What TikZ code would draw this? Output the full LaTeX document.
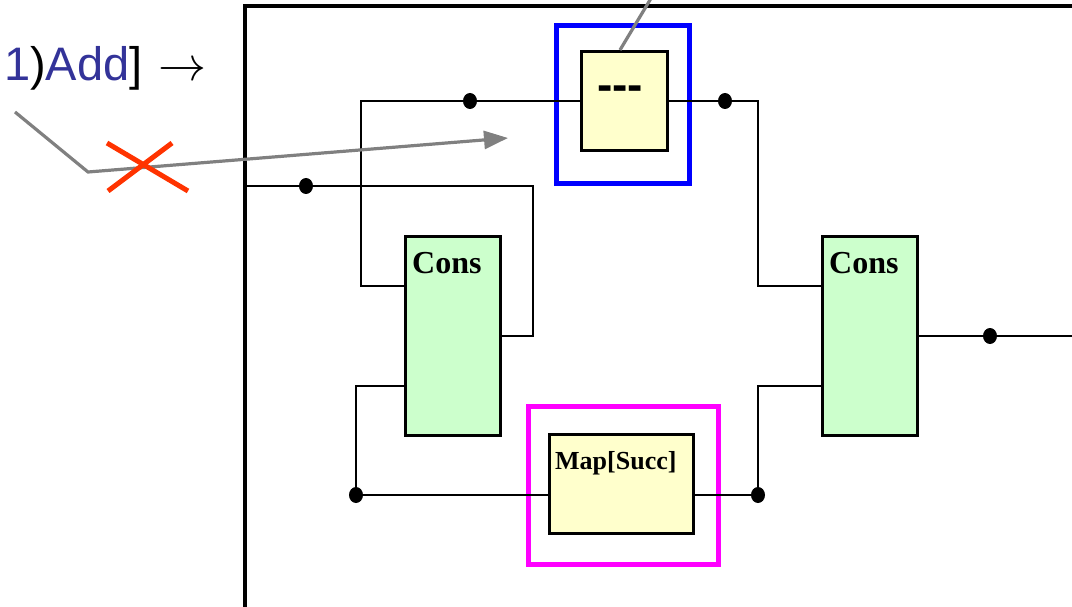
\documentclass[tikz,border=0pt]{standalone}
\usepackage{fontspec}
\setmainfont{Liberation Serif}
\newfontfamily\addfont{Liberation Sans}
\usepackage{xcolor}
\usepackage{graphicx}
\usetikzlibrary{arrows.meta, shapes.geometric}

\definecolor{boxyellow}{RGB}{255,255,204}
\definecolor{boxgreen}{RGB}{204,255,204}
\definecolor{addblue}{RGB}{51,51,153}
\definecolor{crossred}{RGB}{255,51,0}
\definecolor{pointergray}{RGB}{128,128,128}
\definecolor{selblue}{RGB}{0,0,255}
\definecolor{mappink}{RGB}{255,0,255}

\begin{document}
\begin{tikzpicture}[
    x=1pt, y=-1pt,
    wire/.style={line width=2.4pt},
    outerframe/.style={line width=3.2pt},
    consbox/.style={draw, line width=3pt, fill=boxgreen,
                    minimum width=95pt, minimum height=198pt, inner sep=0pt},
    funcbox/.style={draw, line width=3pt, fill=boxyellow, inner sep=0pt},
    highlight/.style={draw, line width=5pt, inner sep=0pt},
    junction/.style={ellipse, fill=black, inner sep=0pt,
                     minimum width=14pt, minimum height=16pt},
    boxtitle/.style={font=\bfseries\fontsize{32}{34}\selectfont,
                     inner sep=0pt, anchor=north west},
    pointer/.style={draw=pointergray, line width=3.2pt},
    cross/.style={draw=crossred, line width=5pt},
]
\useasboundingbox (0,0) rectangle (1072,607);

% Outer frame
\draw[outerframe] (245,620) |- (1085,6);

% Highlight frames
\node[highlight, draw=selblue, minimum width=133pt, minimum height=158pt]
      (selframe) at (622.5,104.5) {};
\node[highlight, draw=mappink, minimum width=190pt, minimum height=158pt]
      (mapframe) at (623,485.5) {};

% Blocks
\node[funcbox, minimum width=86pt, minimum height=99pt] (dash) at (624,101) {};
\node[font=\addfont\bfseries\fontsize{46}{48}\selectfont, inner sep=0pt]
      (dashtxt) at (620,93) {-{}-{}-};
\node[funcbox, minimum width=144pt, minimum height=99pt] (map) at (621.5,484) {};
\node[boxtitle, font=\bfseries\fontsize{26}{28}\selectfont]
      (maptxt) at ([shift={(7,18)}]map.north west) {Map[Succ]};

\node[consbox] (cons1) at (453,336) {};
\node[boxtitle] (cons1txt) at ([shift={(8,17)}]cons1.north west) {Cons};
\node[consbox] (cons2) at (870,336) {};
\node[boxtitle] (cons2txt) at ([shift={(8,17)}]cons2.north west) {Cons};

% Junctions
\node[junction] (j1) at (470,101) {};
\node[junction] (j2) at (725,101) {};
\node[junction] (j3) at (306,186) {};
\node[junction] (j4) at (356,495) {};
\node[junction] (j5) at (758,495) {};
\node[junction] (j6) at (990,336) {};

\coordinate (c1) at (361,101);
\coordinate (c2) at (758,101);
\coordinate (inlet) at (245,186);
\coordinate (c3) at (533,186);
\coordinate (outlet) at (1080,336);

% Wires
\draw[wire] (dash.west) -- (j1) -- (c1) |- ([yshift=50pt]cons1.west);
\draw[wire] (dash.east) -- (j2) -- (c2) |- ([yshift=50pt]cons2.west);
\draw[wire] (inlet) -- (j3) -- (c3) |- (cons1.east);
\draw[wire] ([yshift=-50pt]cons1.west) -| (j4) -- ([yshift=-11pt]map.west);
\draw[wire] ([yshift=-11pt]map.east) -- (j5) |- ([yshift=-50pt]cons2.west);
\draw[wire] (cons2.east) -- (j6) -- (outlet);

% Label and pointers
\node[anchor=base west, inner sep=0pt, font=\addfont\fontsize{47}{50}\selectfont]
      (addlbl) at (4,81)
      {\textcolor{addblue}{1})\textcolor{addblue}{Add}]\hspace{16pt}\scalebox{4.8}{\normalsize$\rightarrow$}};

\coordinate (pstart) at (15,112);
\coordinate (pbend) at (88,172);
\coordinate (ptip) at (508,138);
\draw[pointer, -{Triangle[length=24pt, width=18pt]}] (pstart) -- (pbend) -- (ptip);

\coordinate (ptop) at (653,-5);
\draw[pointer] (dash.north) ++(-4,0) coordinate (pfoot) -- (ptop);

\draw[cross] (107,143) -- (188,191);
\draw[cross] (172,143) -- (108,191);

\end{tikzpicture}
\end{document}
